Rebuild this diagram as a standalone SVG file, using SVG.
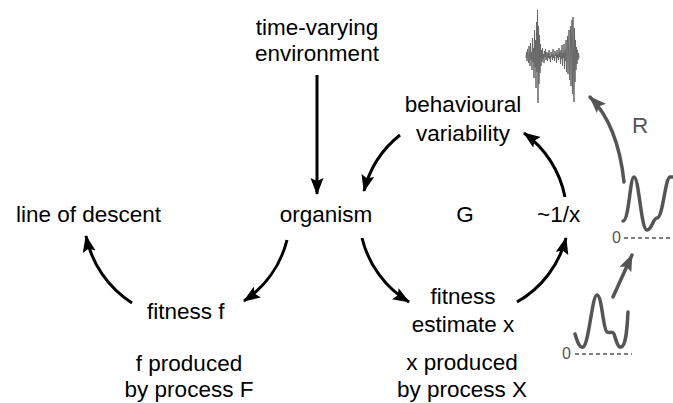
<svg xmlns="http://www.w3.org/2000/svg" width="673" height="403" viewBox="0 0 673 403">
<style>
text{font-family:"Liberation Sans",Arial,sans-serif;font-size:22.5px;fill:#000}
.c{text-anchor:middle}
.k{fill:none;stroke:#000;stroke-width:3}
.g{fill:none;stroke:#555;stroke-width:3.5;stroke-linecap:round}
.gt{fill:#555}
.d{fill:none;stroke:#555;stroke-width:1.5;stroke-dasharray:4 3}
</style>
<defs>
<marker id="ah" markerUnits="userSpaceOnUse" markerWidth="18" markerHeight="14" refX="16" refY="6.5" orient="auto">
<path d="M0,0 L17,6.5 L0,13 L3,6.5 Z" fill="#000"/>
</marker>
<marker id="gh" markerUnits="userSpaceOnUse" markerWidth="18" markerHeight="14" refX="16" refY="6.5" orient="auto">
<path d="M0,0 L17,6.5 L0,13 L3,6.5 Z" fill="#555"/>
</marker>
</defs>
<g id="connectors">
<path class="k" d="M317,75 L317,194" marker-end="url(#ah)"/>
<path class="k" d="M400,135 A103,103 0 0 0 364,191" marker-end="url(#ah)"/>
<path class="k" d="M565,197 A103,103 0 0 0 524,133" marker-end="url(#ah)"/>
<path class="k" d="M362,238 A103,103 0 0 0 409,302" marker-end="url(#ah)"/>
<path class="k" d="M517,302 A103,103 0 0 0 566,238" marker-end="url(#ah)"/>
<path class="k" d="M287,240 A104,104 0 0 1 244,301" marker-end="url(#ah)"/>
<path class="k" d="M132,303 A104,104 0 0 1 86,236" marker-end="url(#ah)"/>
<path class="g" d="M613,297 Q622,277 632,255" marker-end="url(#gh)"/>
<path class="g" d="M624,182 Q618,125 590,97" marker-end="url(#gh)"/>
</g>
<g id="time-varying-environment"><text class="c" x="317" y="35">time-varying</text><text class="c" x="317" y="61">environment</text></g>
<g id="behavioural-variability"><text class="c" x="463" y="112">behavioural</text><text class="c" x="463" y="141">variability</text></g>
<g id="line-of-descent"><text x="16" y="222">line of descent</text></g>
<g id="organism"><text class="c" x="326" y="222">organism</text></g>
<g id="G"><text class="c" x="465" y="222">G</text></g>
<g id="inverse-x"><text x="537" y="222">~1/x</text></g>
<g id="fitness-f"><text x="147" y="319">fitness f</text></g>
<g id="fitness-estimate"><text class="c" x="463" y="304">fitness</text><text class="c" x="463" y="332">estimate x</text></g>
<g id="f-produced"><text class="c" x="189" y="371">f produced</text><text class="c" x="189" y="397">by process F</text></g>
<g id="x-produced"><text class="c" x="462" y="370">x produced</text><text class="c" x="462" y="397">by process X</text></g>
<g id="R-label"><text class="gt" x="632" y="133">R</text></g>
<g id="signal">
<polyline fill="none" stroke="#666" stroke-width="1" stroke-linejoin="round" points="526,58 526.5,52 527,61 527.5,49 528,57 528.5,63 529,46 529.5,55 530,66 530.5,43 531,60 531.5,52 532,70 532.5,38 533,62 533.5,48 534,78 534.5,30 535,67 535.5,40 536,88 536.5,22 537,72 537.5,10 538,103 538.5,26 539,84 539.5,35 540,73 540.5,44 541,66 541.5,50 542,62 542.5,48 543,59 543.5,54 544,63 544.5,51 545,57 545.5,49 546,60 546.5,55 547,52 547.5,61 548,53 548.5,58 549,50 549.5,59 550,56 550.5,62 551,52 551.5,57 552,54 552.5,60 553,49 553.5,58 554,55 554.5,61 555,51 555.5,56 556,53 556.5,63 557,50 557.5,58 558,54 558.5,60 559,48 559.5,57 560,52 560.5,64 561,50 561.5,59 562,45 562.5,66 563,53 563.5,58 564,44 564.5,69 565,50 565.5,61 566,40 566.5,72 567,52 567.5,36 568,74 568.5,48 569,30 569.5,80 570,56 570.5,26 571,86 571.5,42 572,20 572.5,94 573,17 573.5,60 574,102 574.5,28 575,82 575.5,40 576,70 576.5,47 577,64 577.5,50 578,60 578.5,53 579,58"/>
</g>
<g id="plot-upper">
<text class="gt" x="612" y="243" style="font-size:16px">0</text>
<line class="d" x1="624" y1="238" x2="673" y2="238"/>
<path class="g" d="M623,221 C629,221 630,177 634,177 C639,177 641,230 647,230 C652,230 653,218 657,218 C663,218 665,178 670,177 L674,177"/>
</g>
<g id="plot-lower">
<text class="gt" x="562" y="359" style="font-size:16px">0</text>
<line class="d" x1="575" y1="354" x2="632" y2="354"/>
<path class="g" d="M575,334 C578,344 580,348 583,347 C589,345 592,295 597,295 C602,295 603,330 607,332 C611,334 612,330 614,334 C616,340 618,348 621,347 C626,346 627,330 628,312"/>
</g>
</svg>
